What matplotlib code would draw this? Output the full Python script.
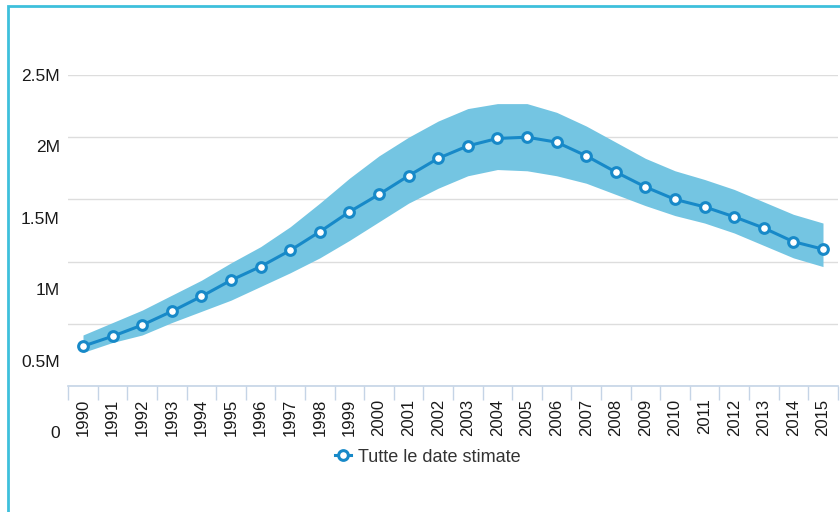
import matplotlib
matplotlib.use("Agg")
import matplotlib.pyplot as plt
from matplotlib.patches import Rectangle
from matplotlib.lines import Line2D

plt.rcParams["font.family"] = ["Liberation Sans", "DejaVu Sans"]

years = [str(y) for y in range(1990, 2016)]
# estimated total, in millions
estimate = [0.32, 0.40, 0.49, 0.60, 0.72, 0.85, 0.96, 1.09, 1.24, 1.40,
            1.54, 1.69, 1.83, 1.93, 1.99, 2.00, 1.96, 1.85, 1.72, 1.60,
            1.50, 1.44, 1.36, 1.27, 1.16, 1.10]
upper = [0.41, 0.51, 0.61, 0.73, 0.85, 0.99, 1.12, 1.28, 1.47, 1.67,
         1.85, 2.00, 2.13, 2.23, 2.27, 2.27, 2.20, 2.09, 1.96, 1.83,
         1.73, 1.66, 1.58, 1.48, 1.38, 1.31]
lower = [0.27, 0.35, 0.41, 0.51, 0.60, 0.69, 0.80, 0.91, 1.03, 1.17,
         1.32, 1.47, 1.59, 1.69, 1.74, 1.73, 1.69, 1.63, 1.54, 1.45,
         1.37, 1.31, 1.23, 1.13, 1.03, 0.96]
y_ticks = [0, 0.5, 1, 1.5, 2, 2.5]
y_labels = ["0", "0.5M", "1M", "1.5M", "2M", "2.5M"]
series_name = "Tutte le date stimate"

LINE = "#1789c8"
BAND = "#74c5e2"

fig = plt.figure(figsize=(8.4, 5.12), dpi=100)
W, H = 840, 512

ax = fig.add_axes([68.2 / W, (H - 386) / H, (837.8 - 68.2) / W, (386 - 75) / H])
x = list(range(len(years)))
ax.fill_between(x, lower, upper, color=BAND, lw=0, zorder=2)
ax.plot(x, estimate, color=LINE, lw=2.2, marker="o", ms=7,
        mfc="white", mec=LINE, mew=2.2, zorder=3)

ax.set_xlim(-0.5, len(years) - 0.5)
ax.set_ylim(0, 2.5)
ax.set_yticks(y_ticks)
ax.set_yticklabels([])
ax.tick_params(axis="y", length=0)
ax.grid(axis="y", color="#dddddd", lw=1, zorder=0)
ax.set_xticks(x)
ax.set_xticklabels(years, rotation=90, fontsize=12, color="#1a1a1a")
ax.set_xticks([i - 0.5 for i in range(len(years) + 1)], minor=True)
ax.tick_params(axis="x", which="major", length=0, pad=9)
ax.tick_params(axis="x", which="minor", length=10, color="#c5d4e6", width=1)
for side in ["top", "right", "left"]:
    ax.spines[side].set_visible(False)
ax.spines["bottom"].set_color("#c5d4e6")
ax.spines["bottom"].set_linewidth(1.2)

# y labels sit on their own, slightly stretched scale in the reference
lab = fig.add_axes([68.2 / W, (H - 432) / H, 0.01, (432 - 75) / H])
lab.set_ylim(0, 2.5)
lab.set_yticks(y_ticks)
lab.set_yticklabels(y_labels, fontsize=12.5, color="#1a1a1a")
lab.tick_params(axis="y", length=0, pad=6)
lab.set_xticks([])
lab.patch.set_visible(False)
for s in lab.spines.values():
    s.set_visible(False)

handle = Line2D([], [], color=LINE, lw=2.2, marker="o", ms=7,
                mfc="white", mec=LINE, mew=2.2)
fig.legend([handle], [series_name], loc="center", bbox_to_anchor=(428 / W, 1 - 457 / H),
           frameon=False, fontsize=13, handlelength=0.9, handletextpad=0.4,
           labelcolor="#333333")

fig.patches.append(Rectangle((8 / W, -0.2), 1.2, 1.2 - 6 / H, transform=fig.transFigure,
                             fill=False, ec="#3ec0dc", lw=2, clip_on=False))

fig.savefig("out.png", dpi=100)
